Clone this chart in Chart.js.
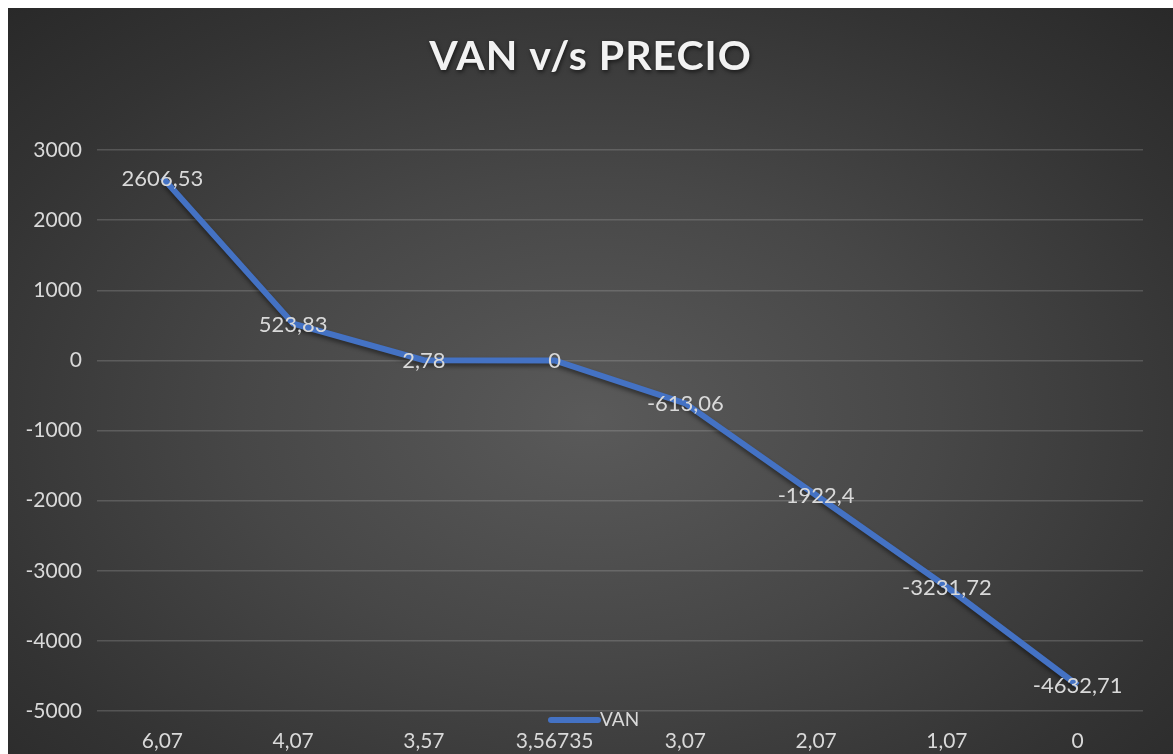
<!DOCTYPE html>
<html>
<head>
<meta charset="utf-8">
<script src="https://cdn.jsdelivr.net/npm/chart.js@4.4.1/dist/chart.umd.min.js"></script>
<style>
  body { margin: 8px 0 0 8px; background: #fff; overflow: hidden; }
  .wrap {
    width: 1165px; height: 746px; position: relative;
    background: radial-gradient(ellipse 75% 80% at 50% 55%, #5a5a5a 0%, #474747 40%, #333333 75%, #272727 100%);
  }
</style>
</head>
<body>
<div class="wrap"><canvas id="vanChart" width="1165" height="746"></canvas></div>
<script>
// precio (eje x) y VAN (eje y)
const precios = ['6,07', '4,07', '3,57', '3,56735', '3,07', '2,07', '1,07', '0'];
const van = [2606.53, 523.83, 2.78, 0, -613.06, -1922.4, -3231.72, -4632.71];
const yTicks = { min: -5000, max: 3000, step: 1000 };

const titulo = 'VAN v/s PRECIO';
const labelColor = '#d9d9d9';
const fontFamily = 'Lato, "Open Sans", sans-serif';

const fmt = v => String(v).replace('.', ',');

// sombra suave bajo la linea
const lineShadow = {
    id: 'lineShadow',
    beforeDatasetDraw: (chart) => {
        const ctx = chart.ctx;
        ctx.save();
        ctx.shadowColor = 'rgba(0,0,0,0.45)';
        ctx.shadowBlur = 4;
        ctx.shadowOffsetY = 3;
    },
    afterDatasetDraw: (chart) => {
        chart.ctx.restore();
    },
};

// etiquetas de datos centradas sobre cada punto
const dataLabels = {
    id: 'dataLabels',
    afterDatasetsDraw: (chart) => {
        const ctx = chart.ctx;
        const meta = chart.getDatasetMeta(0);
        ctx.save();
        ctx.font = '22px ' + fontFamily;
        ctx.fillStyle = labelColor;
        ctx.textAlign = 'center';
        ctx.textBaseline = 'middle';
        meta.data.forEach((pt, i) => {
            ctx.fillText(fmt(chart.data.datasets[0].data[i]), pt.x, pt.y + 1);
        });
        ctx.restore();
    },
};

// titulo centrado en todo el grafico, con sombra como en Excel
const chartTitle = {
    id: 'chartTitle',
    afterDraw: (chart) => {
        const ctx = chart.ctx;
        ctx.save();
        ctx.font = 'bold 41px ' + fontFamily;
        ctx.fillStyle = '#f2f2f2';
        ctx.textAlign = 'center';
        ctx.textBaseline = 'middle';
        ctx.shadowColor = 'rgba(0,0,0,0.6)';
        ctx.shadowBlur = 4;
        ctx.shadowOffsetX = 1;
        ctx.shadowOffsetY = 2;
        if ('letterSpacing' in ctx) ctx.letterSpacing = '1px';
        ctx.fillText(titulo, chart.width / 2, 49);
        ctx.restore();
    },
};

// leyenda encima de las etiquetas del eje x, como en Excel
const bottomLegend = {
    id: 'bottomLegend',
    afterDraw: (chart) => {
        const ctx = chart.ctx;
        const ds = chart.data.datasets[0];
        const cx = (chart.chartArea.left + chart.chartArea.right) / 2;
        const y = chart.chartArea.bottom + 9;
        ctx.save();
        ctx.strokeStyle = ds.borderColor;
        ctx.lineWidth = 6;
        ctx.lineCap = 'round';
        ctx.beginPath();
        ctx.moveTo(cx - 69, y);
        ctx.lineTo(cx - 22, y);
        ctx.stroke();
        ctx.font = '19px ' + fontFamily;
        ctx.fillStyle = labelColor;
        ctx.textBaseline = 'middle';
        ctx.fillText(ds.label, cx - 20, y);
        ctx.restore();
    },
};

new Chart(document.getElementById('vanChart'), {
    type: 'line',
    data: {
        labels: precios,
        datasets: [{
            label: 'VAN',
            data: van,
            borderColor: '#4472C4',
            borderWidth: 6,
            pointRadius: 0,
            tension: 0,
            fill: false,
        }]
    },
    options: {
        responsive: false,
        animation: false,
        layout: { padding: { top: 142, right: 30, bottom: 0, left: 0 } },
        plugins: {
            legend: { display: false },
            tooltip: { enabled: false },
            title: { display: false },
        },
        scales: {
            x: {
                offset: true,
                grid: { display: false, drawTicks: false },
                border: { display: false },
                ticks: { color: labelColor, font: { family: fontFamily, size: 21 }, padding: 18, maxRotation: 0 },
                afterFit: scale => { scale.height = 43; },
            },
            y: {
                min: yTicks.min,
                max: yTicks.max,
                grid: { color: 'rgba(200,200,200,0.22)', lineWidth: 1.5, drawTicks: false },
                border: { display: false },
                ticks: {
                    stepSize: yTicks.step,
                    color: labelColor,
                    font: { family: fontFamily, size: 21 },
                    padding: 15,
                    callback: v => String(v),
                },
                afterFit: scale => { scale.width = 89; },
            },
        },
    },
    plugins: [lineShadow, dataLabels, chartTitle, bottomLegend],
});
</script>
</body>
</html>
